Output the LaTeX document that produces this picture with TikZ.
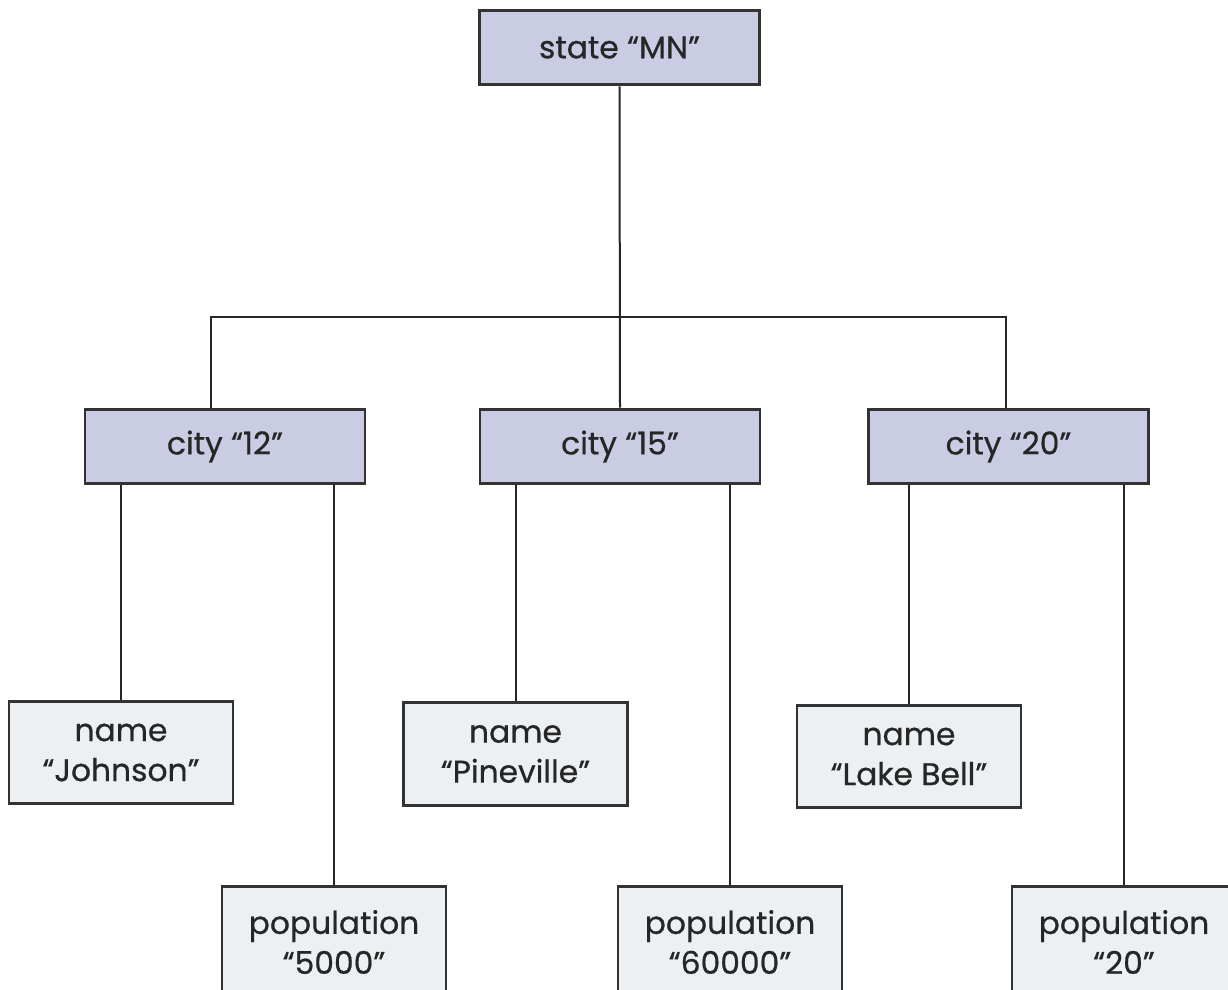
\documentclass[tikz,border=0pt]{standalone}
\usepackage{fontspec}
\setmainfont{Poppins}[FakeBold=0.6]
\begin{document}
\begin{tikzpicture}[x=0.75pt,y=-0.75pt,
  box/.style={draw=black!80,line width=2.2pt,inner sep=0pt,align=center,
    font=\fontsize{23.5}{30}\selectfont,text=black!85},
  elem/.style={box,fill=headfill,minimum width=210pt,minimum height=56pt},
  leaf/.style={box,fill=leaffill,minimum width=168pt,minimum height=77pt},
  link/.style={draw=black!85,line width=1.5pt}]
\definecolor{headfill}{HTML}{C9CCE2}
\definecolor{leaffill}{HTML}{ECF0F2}
\clip (0,0) rectangle (1228,989);
\useasboundingbox (0,0) rectangle (1228,989);
% root and city elements
\node[elem] (state)  at (619.5,47.5)  {state “MN”};
\node[elem] (city12) at (225,446.5)   {city “12”};
\node[elem] (city15) at (620,446.5)   {city “15”};
\node[elem] (city20) at (1008.5,446.5){city “20”};
% leaves
\node[leaf] (name12) at (121,752.5)   {name\\“Johnson”};
\node[leaf] (name15) at (515.5,754)   {name\\“Pineville”};
\node[leaf] (name20) at (909,756.5)   {name\\“Lake Bell”};
\node[leaf,minimum height=83pt] (pop12) at (334,942)  {population\\“5000”};
\node[leaf,minimum height=83pt] (pop15) at (730,942)  {population\\“60000”};
\node[leaf,minimum height=83pt] (pop20) at (1124,942) {population\\“20”};
% connectors
\coordinate (jL) at (211,317);
\coordinate (jR) at (1006,317);
\draw[link] (state.south) -- (city15.north);
\draw[link] (city12.north -| jL) -- (jL) -- (jR) -- (city20.north -| jR);
\draw[link] (name12.north) -- (name12.north |- city12.south);
\draw[link] (pop12.north)  -- (pop12.north |- city12.south);
\draw[link] (name15.north) -- (name15.north |- city15.south);
\draw[link] (pop15.north)  -- (pop15.north |- city15.south);
\draw[link] (name20.north) -- (name20.north |- city20.south);
\draw[link] (pop20.north)  -- (pop20.north |- city20.south);
\end{tikzpicture}
\end{document}
